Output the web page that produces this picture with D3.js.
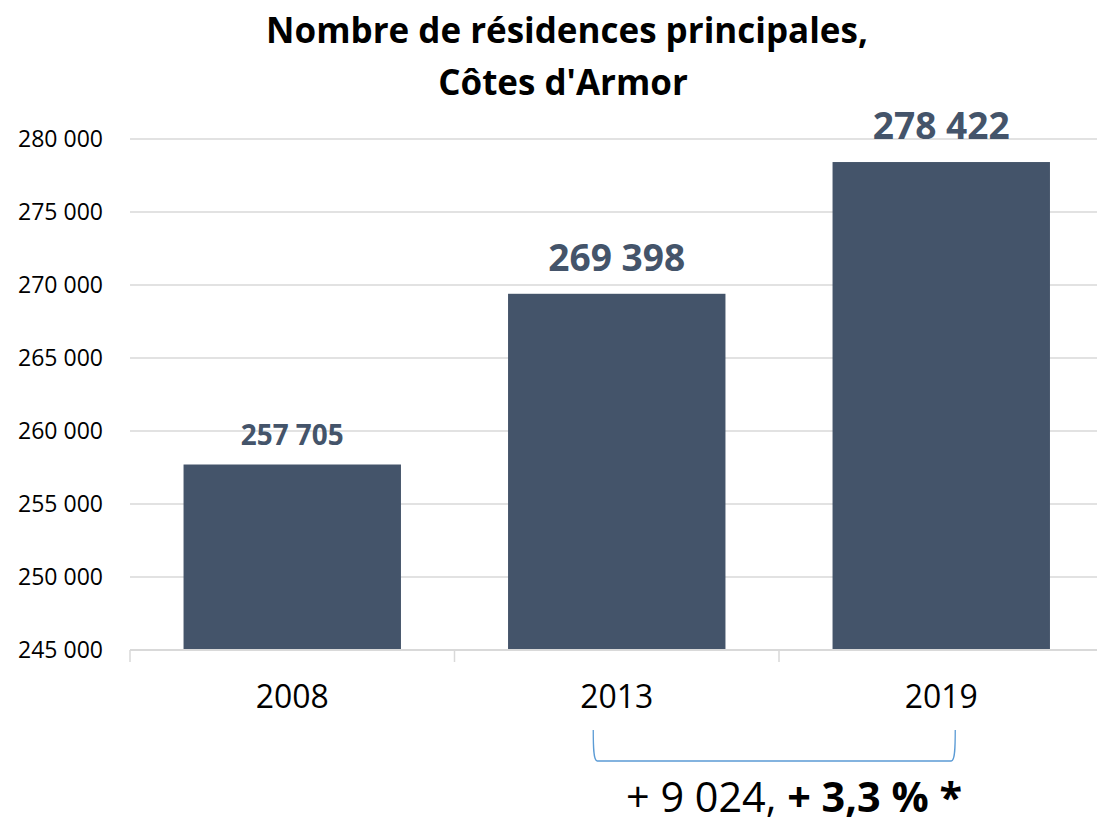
<!DOCTYPE html>
<html><head><meta charset="utf-8">
<script src="https://cdn.jsdelivr.net/npm/d3@7"></script>
<style>html,body{margin:0;padding:0;background:#fff;}svg{display:block;font-family:"Open Sans",sans-serif;}</style>
</head><body>
<svg id="c" width="1097" height="823"></svg>
<script>
const categories = ["2008", "2013", "2019"];
const values = [257705, 269398, 278422];
const valueLabels = ["257 705", "269 398", "278 422"];
const yTicks = [245000, 250000, 255000, 260000, 265000, 270000, 275000, 280000];
const titleLines = ["Nombre de résidences principales,", "Côtes d'Armor"];
const annotationParts = [{t: "+ 9 024, ", bold: false}, {t: "+ 3,3 % *", bold: true}];

const svg = d3.select("#c");
const fmt = v => d3.format(",")(v).replace(/,/g, " ");

const x = d3.scaleBand().domain(categories).range([130, 1103.5]).paddingInner(0.33).paddingOuter(0.165);
const y = d3.scaleLinear().domain([245000, 280000]).range([650, 139]);

function fit(sel, target) {
  sel.attr("font-size", 100);
  const w = sel.node().getComputedTextLength();
  const fs = 100 * target / w;
  sel.attr("font-size", fs);
  return fs;
}

// gridlines
svg.append("g").selectAll("line").data(yTicks.slice(1)).join("line")
  .attr("x1", 130).attr("x2", 1097).attr("y1", d => y(d)).attr("y2", d => y(d))
  .attr("stroke", "#d9d9d9").attr("stroke-width", 1.5);

// y labels
const yl = svg.append("g").selectAll("text").data(yTicks).join("text")
  .attr("x", 103).attr("y", d => y(d)).attr("dy", "0.35em")
  .attr("text-anchor", "end").attr("fill", "#000").text(d => fmt(d));
const yfs = fit(d3.select(yl.nodes()[7]), 85);
yl.attr("font-size", yfs);

// bars
svg.append("g").selectAll("rect").data(values).join("rect")
  .attr("x", (d, i) => x(categories[i])).attr("width", x.bandwidth())
  .attr("y", d => y(d)).attr("height", d => y(245000) - y(d))
  .attr("fill", "#44546a");

// x axis
svg.append("line").attr("x1", 130).attr("x2", 1097).attr("y1", 650).attr("y2", 650)
  .attr("stroke", "#d9d9d9").attr("stroke-width", 2);
const tickX = categories.map(c => x(c) - x.step() * x.paddingInner() / 2);
tickX.push(1103.5);
svg.append("g").selectAll("line").data(tickX).join("line")
  .attr("x1", d => d).attr("x2", d => d).attr("y1", 650).attr("y2", 662)
  .attr("stroke", "#d9d9d9").attr("stroke-width", 1.5);

const xl = svg.append("g").selectAll("text").data(categories).join("text")
  .attr("x", d => x(d) + x.bandwidth() / 2).attr("y", 708)
  .attr("text-anchor", "middle").attr("fill", "#000").text(d => d);
const xfs = fit(d3.select(xl.nodes()[0]), 73);
xl.attr("font-size", xfs);

// value labels
const vl = svg.append("g").selectAll("text").data(values).join("text")
  .attr("x", (d, i) => x(categories[i]) + x.bandwidth() / 2)
  .attr("y", (d, i) => y(d) - (i === 0 ? 20 : 23))
  .attr("text-anchor", "middle").attr("font-weight", "bold").attr("fill", "#44546a")
  .text((d, i) => valueLabels[i]);
fit(d3.select(vl.nodes()[0]), 103);
const bigfs = fit(d3.select(vl.nodes()[1]), 137);
d3.select(vl.nodes()[2]).attr("font-size", bigfs);

// title
const t1 = svg.append("text").attr("x", 567).attr("y", 43).attr("text-anchor", "middle")
  .attr("font-weight", "bold").attr("fill", "#000").text(titleLines[0]);
const tfs = fit(t1, 602);
svg.append("text").attr("x", 563).attr("y", 95).attr("text-anchor", "middle")
  .attr("font-weight", "bold").attr("fill", "#000").attr("font-size", tfs).text(titleLines[1]);

// bracket
const bx0 = x("2013") + x.bandwidth() / 2 - 23.5, bx1 = x("2019") + x.bandwidth() / 2 + 14;
svg.append("path")
  .attr("d", `M${bx0},730 C${bx0},745 ${bx0},761 ${bx0 + 4},761 L${bx1 - 4},761 C${bx1},761 ${bx1},745 ${bx1},730`)
  .attr("fill", "none").attr("stroke", "#5b9bd5").attr("stroke-width", 1.3);

// annotation
const an = svg.append("text").attr("x", 626).attr("y", 812).attr("fill", "#000");
an.selectAll("tspan").data(annotationParts).join("tspan")
  .attr("font-weight", d => d.bold ? "bold" : "normal").text(d => d.t);
fit(an, 336);
</script>
</body></html>
